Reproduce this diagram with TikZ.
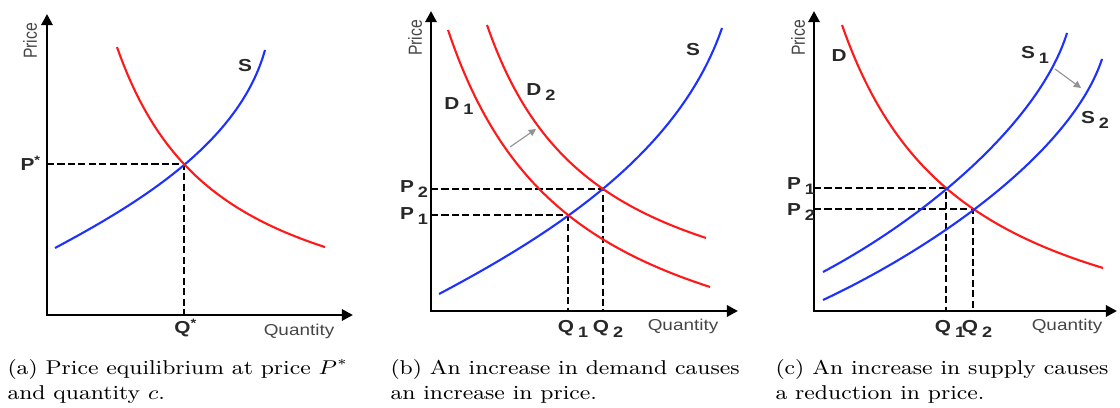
\documentclass[tikz,border=0pt]{standalone}
\usepackage{fontspec}
\setsansfont{Liberation Sans}
\usetikzlibrary{arrows.meta}

\definecolor{curvered}{RGB}{255,25,25}
\definecolor{curveblue}{RGB}{30,50,255}
\definecolor{axisgray}{RGB}{70,70,70}
\definecolor{labelgray}{RGB}{40,40,40}

\newcommand{\sublbl}[2]{#1\kern1.5pt\raisebox{-2.4pt}{\fontsize{6.8}{7}\selectfont #2}}

\tikzset{
  axisline/.style={line width=1.25pt,-{Triangle[length=5pt,width=5pt]}},
  demand/.style={draw=curvered,line width=0.95pt},
  supply/.style={draw=curveblue,line width=0.95pt},
  guide/.style={line width=0.65pt,dash pattern=on 3.2pt off 1.5pt},
  shiftarrow/.style={draw=gray!85,line width=0.5pt,-{Triangle[length=3.2pt,width=3.2pt]}},
  wide/.style={xscale=#1,transform shape},
  axislabel/.style={wide=1.2,font=\sffamily\fontsize{7.1}{8}\selectfont,text=axisgray,inner sep=0pt},
  curvelabel/.style={wide=1.2,font=\sffamily\bfseries\fontsize{7.8}{8}\selectfont,text=labelgray,inner sep=0pt},
  subcaption/.style={wide=1.15,font=\fontsize{9}{11.2}\selectfont,align=left,anchor=north west,inner sep=0pt},
}

\begin{document}
\begin{tikzpicture}[x=0.45pt,y=-0.45pt]
\useasboundingbox (0,0) rectangle (1120,408);

% (a) equilibrium
\coordinate (aO) at (47,315);
\coordinate (aY) at (47,14);
\coordinate (aX) at (353,315);
\coordinate (aE) at (184,164);
\draw[guide] (aO |- aE) -- (aE) -- (aO -| aE);
\draw[supply] (55,248) .. controls (145,200) and (240,140) .. (265,50);
\draw[demand] plot[domain=117:325,samples=80] (\x,{348.8-319.25/((\x-11.2)/100)});
\draw[axisline] (47,316) -- (aY);
\draw[axisline] (46.5,315) -- (aX);
\node[axislabel,rotate=90] (aPrice) at (30,41) {Price};
\node[axislabel] (aQty) at (299,331) {Quantity};
\node[curvelabel] (aPs) at (31,163) {P\textsuperscript{*}};
\node[curvelabel] (aQs) at (186,328) {Q\textsuperscript{*}};
\node[curvelabel] (aS) at (245,66) {S};

% (b) demand shift
\coordinate (bO) at (431,311);
\coordinate (bY) at (431,11);
\coordinate (bX) at (738,311);
\coordinate (bE1) at (568,215);
\coordinate (bE2) at (603,189);
\draw[guide] (bO |- bE2) -- (bE2) -- (bO -| bE2);
\draw[guide] (bO |- bE1) -- (bE1) -- (bO -| bE1);
\draw[supply] (439,294) .. controls (560,230) and (680,150) .. (722,28);
\draw[demand] plot[domain=448:710,samples=80] (\x,{412.9-491.7/((\x-319.6)/100)});
\draw[demand] plot[domain=487:706,samples=80] (\x,{345.9-356.23/((\x-376)/100)});
\coordinate (bFrom) at (510,147);
\coordinate (bTo) at (536,129);
\draw[shiftarrow] (bFrom) -- (bTo);
\draw[axisline] (431,312) -- (bY);
\draw[axisline] (430.5,311) -- (bX);
\node[axislabel,rotate=90] (bPrice) at (415,38) {Price};
\node[axislabel] (bQty) at (683,326) {Quantity};
\node[curvelabel] (bP2) at (414,189) {\sublbl{P}{2}};
\node[curvelabel] (bP1) at (414,216) {\sublbl{P}{1}};
\node[curvelabel] (bQ1) at (573,329) {\sublbl{Q}{1}};
\node[curvelabel] (bQ2) at (608,329) {\sublbl{Q}{2}};
\node[curvelabel] (bD1) at (459,106) {\sublbl{D}{1}};
\node[curvelabel] (bD2) at (541,92) {\sublbl{D}{2}};
\node[curvelabel] (bS) at (693,50) {S};

% (c) supply shift
\coordinate (cO) at (814,311);
\coordinate (cY) at (814,11);
\coordinate (cX) at (1117,311);
\coordinate (cE1) at (946,188);
\coordinate (cE2) at (973,209);
\draw[guide] (cO |- cE1) -- (cE1) -- (cO -| cE1);
\draw[guide] (cO |- cE2) -- (cE2) -- (cO -| cE2);
\draw[demand] plot[domain=842:1103,samples=80] (\x,{385-452.53/((\x-716.3)/100)});
\draw[supply] (823,272) .. controls (930,215) and (1040,120) .. (1067,33);
\draw[supply] (823,300) .. controls (940,245) and (1072,150) .. (1102,59);
\coordinate (cFrom) at (1055,69);
\coordinate (cTo) at (1081,88);
\draw[shiftarrow] (cFrom) -- (cTo);
\draw[axisline] (814,312) -- (cY);
\draw[axisline] (813.5,311) -- (cX);
\node[axislabel,rotate=90] (cPrice) at (798,38) {Price};
\node[axislabel] (cQty) at (1067,326) {Quantity};
\node[curvelabel] (cP1) at (801,186) {\sublbl{P}{1}};
\node[curvelabel] (cP2) at (801,212) {\sublbl{P}{2}};
\node[curvelabel] (cQ1) at (950,329) {\sublbl{Q}{1}};
\node[curvelabel] (cQ2) at (977,329) {\sublbl{Q}{2}};
\node[curvelabel] (cD) at (839,56) {D};
\node[curvelabel] (cS1) at (1035,55) {\sublbl{S}{1}};
\node[curvelabel] (cS2) at (1095,120) {\sublbl{S}{2}};

% captions
\node[subcaption] (capA) at (7,359) {(a) Price equilibrium at price $P^*$\\and quantity $c$.};
\node[subcaption] (capB) at (390,359) {(b) An increase in demand causes\\an increase in price.};
\node[subcaption] (capC) at (775,359) {(c) An increase in supply causes\\a reduction in price.};
\end{tikzpicture}
\end{document}
